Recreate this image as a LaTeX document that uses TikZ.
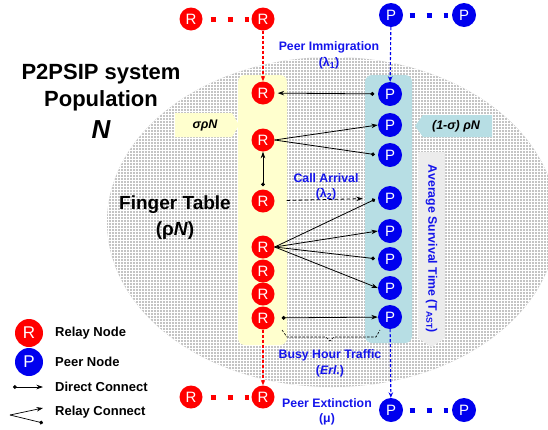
\documentclass[tikz,border=0pt]{standalone}
\usepackage{fontspec}
\setmainfont{Liberation Sans}
\usetikzlibrary{arrows.meta,patterns}
\definecolor{ellgray}{RGB}{196,196,196}
\definecolor{ftyellow}{RGB}{255,255,206}
\definecolor{pcyan}{RGB}{183,222,228}
\definecolor{astgray}{RGB}{236,236,236}
\definecolor{nred}{RGB}{255,0,0}
\definecolor{nblue}{RGB}{0,0,238}
\definecolor{lblue}{RGB}{20,20,235}
\tikzset{
  rnode/.style={circle, fill=nred, text=white, minimum size=23pt, inner sep=0pt, font=\fontsize{15}{15}\selectfont},
  pnode/.style={circle, fill=nblue, text=white, minimum size=24pt, inner sep=0pt, font=\fontsize{15}{15}\selectfont},
  dconn/.style={line width=0.8pt, {Circle[length=3.8pt]}-{Stealth[length=6.5pt,width=4.5pt]}},
  aconn/.style={line width=0.8pt, -{Stealth[length=6.5pt,width=4.5pt]}},
  oconn/.style={line width=0.8pt, -{Circle[length=3.8pt]}},
  reddash/.style={nred, line width=1.1pt, dash pattern=on 3pt off 2pt, -{Stealth[length=5.5pt,width=4.5pt]}},
  bluedash/.style={nblue, line width=1.1pt, dash pattern=on 3pt off 2pt, -{Stealth[length=5.5pt,width=4.5pt]}},
  sqdots/.style={line width=5pt, dash pattern=on 5pt off 12pt},
  lbl/.style={text=lblue, font=\fontsize{12.3}{12.5}\selectfont\bfseries, align=center, inner sep=0pt},
  big/.style={font=\fontsize{22}{22}\selectfont\bfseries, inner sep=0pt},
  mid/.style={font=\fontsize{19}{19}\selectfont\bfseries, inner sep=0pt},
  leg/.style={font=\fontsize{13}{13}\selectfont\bfseries, anchor=west, inner sep=0pt},
  tag/.style={font=\fontsize{12.5}{12.5}\selectfont\bfseries\itshape, inner sep=0pt}
}
\begin{document}
\begin{tikzpicture}[x=1pt,y=-1pt]
\useasboundingbox (0,0) rectangle (548,429);
% population ellipse
\fill[ellgray] (332,222) ellipse [x radius=225, y radius=165];
\fill[pattern=grid, pattern color=white] (332,222) ellipse [x radius=225, y radius=165];
% finger table and peer boxes
\fill[ftyellow, rounded corners=7pt] (238,75) rectangle (287,345);
\fill[pcyan, rounded corners=7pt] (365,75) rectangle (412,343);
% tag shapes
\fill[ftyellow] (175,113) -- (232,113) -- (239,125) -- (232,137) -- (175,137) -- cycle;
\node[tag] (sig) at (205,125) {σρ\textit{N}};
\fill[pcyan] (415,126) -- (423,115) -- (492,115) -- (492,137) -- (423,137) -- cycle;
\node[tag] (sig2) at (456,126) {(1-σ) ρ\textit{N}};
\fill[astgray] (418,152) -- (445,152) -- (445,338) -- (431.5,347) -- (418,338) -- cycle;
\node[lbl, rotate=-90, font=\fontsize{12.3}{12.5}\selectfont\bfseries] (ast) at (431.5,249) {Average Survival Time (T\textsubscript{AST})};
% titles
\node[big] (t1) at (101,74) {P2PSIP system};
\node[big] (t2) at (101,101) {Population};
\node[font=\fontsize{26}{26}\selectfont\bfseries\itshape, inner sep=0pt] (t3) at (101,130) {N};
\node[mid] (ft1) at (175,205) {Finger Table};
\node[mid] (ft2) at (175,231) {(ρ\textit{N})};
% top and bottom rows
\node[rnode] (Rt1) at (191,19) {R};
\node[rnode] (Rt2) at (263,19) {R};
\node[pnode] (Pt1) at (391,15) {P};
\node[pnode] (Pt2) at (464,15) {P};
\node[rnode] (Rb1) at (191,397) {R};
\node[rnode] (Rb2) at (263,397) {R};
\node[pnode] (Pb1) at (391,410) {P};
\node[pnode] (Pb2) at (464,410) {P};
\draw[nred, sqdots, shorten <=8pt, shorten >=2pt] (Rt1) -- (Rt2);
\draw[nred, sqdots, shorten <=8pt, shorten >=2pt] (Rb1) -- (Rb2);
\draw[nblue, sqdots, shorten <=6.5pt, shorten >=3.5pt] (Pt1) -- (Pt2);
\draw[nblue, sqdots, shorten <=6.5pt, shorten >=3.5pt] (Pb1) -- (Pb2);
% finger table relays
\node[rnode] (R1) at (263,93) {R};
\node[rnode] (R2) at (263,140) {R};
\node[rnode] (R3) at (263,201) {R};
\node[rnode] (R4) at (263,247) {R};
\node[rnode] (R5) at (263,271) {R};
\node[rnode] (R6) at (263,294) {R};
\node[rnode] (R7) at (263,318) {R};
% peers
\node[pnode] (P1) at (390,94) {P};
\node[pnode] (P2) at (390,125) {P};
\node[pnode] (P3) at (390,155) {P};
\node[pnode] (P4) at (390,198) {P};
\node[pnode] (P5) at (390,231) {P};
\node[pnode] (P6) at (390,259) {P};
\node[pnode] (P7) at (390,288) {P};
\node[pnode] (P8) at (390,317) {P};
% immigration / extinction
\draw[reddash] (Rt2) -- (R1);
\draw[bluedash] (Pt1) -- (P1);
\draw[reddash] (R7) -- (Rb2);
\draw[bluedash] (P8) -- (Pb1);
% connections
\draw[dconn, shorten <=3.5pt, shorten >=3pt] (P1) -- (R1);
\draw[aconn] (R2.east) -- (P2.west);
\draw[oconn, shorten >=3pt] (R2.east) -- (P3.west);
\draw[dconn, shorten <=3pt] (R3) -- (R2);
\draw[line width=0.8pt, dash pattern=on 3.5pt off 2.5pt, -{Stealth[length=6.5pt,width=4.5pt]}, shorten <=12pt, shorten >=15pt] (R3) -- (P4);
\draw[oconn, shorten >=3pt] (R4.east) -- (P4.west);
\draw[aconn] (R4.east) -- (P5.west);
\draw[oconn, shorten >=3pt] (R4.east) -- (P6.west);
\draw[aconn] (R4.east) -- (P7.west);
\draw[dconn, shorten <=7pt] (R7) -- (P8);
% busy hour brace
\draw[line width=0.6pt, dash pattern=on 2.5pt off 1.5pt] (282,330) -- (287,337) -- (326,337) -- (330,341) -- (334,337) -- (376,337) -- (380,330);
% labels
\node[lbl] (li) at (329,47) {Peer Immigration};
\node[lbl] (li2) at (329,63) {(λ\textsubscript{1})};
\node[lbl] (ca) at (326,178) {Call Arrival};
\node[lbl] (ca2) at (326,194) {(λ\textsubscript{2})};
\node[lbl] (bh) at (330,355) {Busy Hour Traffic};
\node[lbl] (bh2) at (330,371) {(\textit{Erl.})};
\node[lbl] (pe) at (327,403) {Peer Extinction};
\node[lbl] (pe2) at (327,419) {(μ)};
% legend
\node[rnode, minimum size=28pt, font=\fontsize{17}{17}\selectfont] (LR) at (29,333) {R};
\node[pnode, minimum size=28pt, font=\fontsize{17}{17}\selectfont] (LP) at (29,362) {P};
\node[leg] (lr) at (55,333) {Relay Node};
\node[leg] (lp) at (55,362) {Peer Node};
\coordinate (d1) at (13,387);
\coordinate (d2) at (43,387);
\draw[dconn, line width=0.7pt] (d1) -- (d2);
\node[leg] (ld) at (55,387) {Direct Connect};
\coordinate (c0) at (10,415);
\coordinate (c1) at (43,408);
\coordinate (c2) at (43,423);
\draw[aconn, line width=0.7pt] (c0) -- (c1);
\draw[oconn, line width=0.7pt] (c0) -- (c2);
\node[leg] (lc) at (55,412) {Relay Connect};
\end{tikzpicture}
\end{document}
